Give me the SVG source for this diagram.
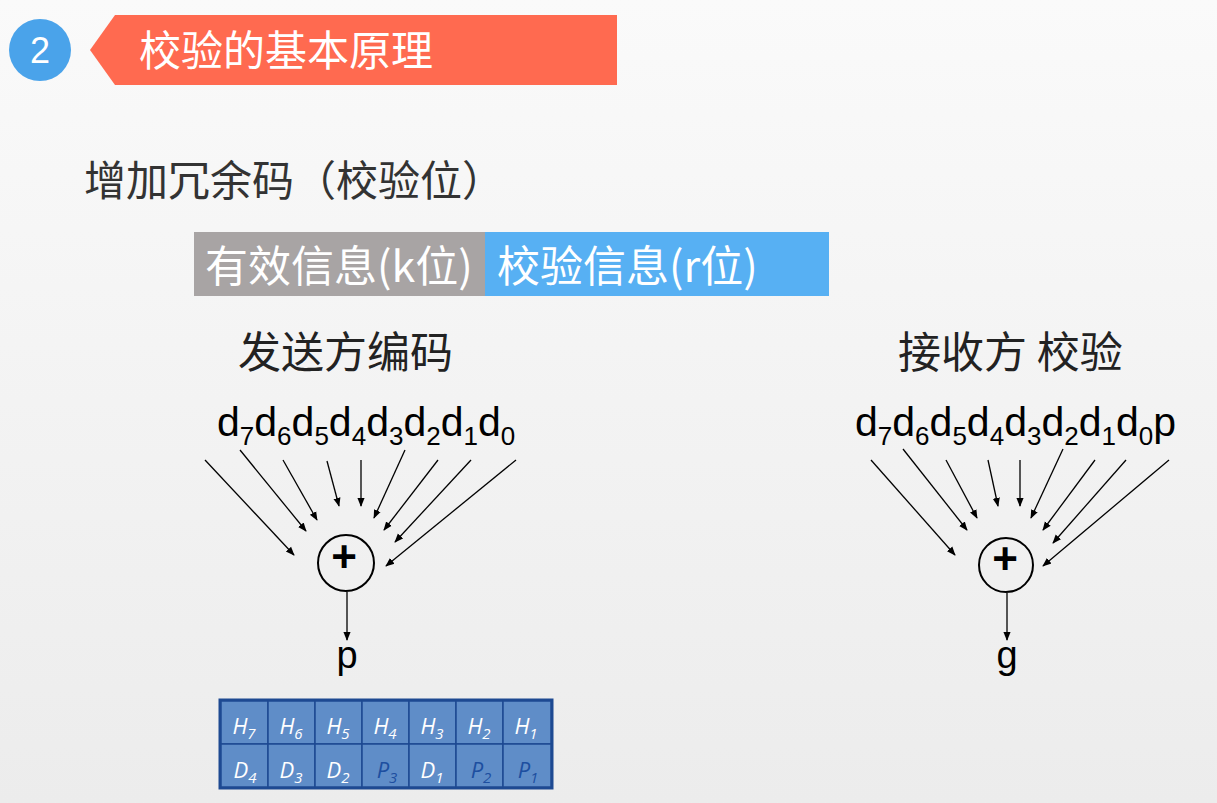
<svg xmlns="http://www.w3.org/2000/svg" width="1217" height="803" viewBox="0 0 1217 803">
<defs>
<linearGradient id="bg" x1="0" y1="0" x2="0" y2="1"><stop offset="0" stop-color="#fafafa"/><stop offset="1" stop-color="#ececec"/></linearGradient>
<marker id="ah" viewBox="0 0 10 10" refX="9" refY="5" markerWidth="9" markerHeight="9" markerUnits="userSpaceOnUse" orient="auto"><path d="M0,1 L10,5 L0,9 z" fill="#000"/></marker>
</defs>
<style>
.cn{font-family:"Noto Sans CJK SC","Noto Sans",sans-serif}
.ar{font-family:"Liberation Sans",Arial,sans-serif}
.c line{stroke:#000;stroke-width:1.3;marker-end:url(#ah)}
.cell{fill:#5f8dc8;stroke:#1e4a92;stroke-width:1.5}
.ct{font-family:"Open Sans","Liberation Sans",sans-serif;font-style:italic;font-size:22px;fill:#fff;text-anchor:middle}
.ct.p{fill:#1d4fa0}
.ct tspan{font-size:15px}
.d{font-size:41px}
.d tspan.s{font-size:26px}
</style>
<rect width="1217" height="803" fill="url(#bg)"/>
<g id="header">
<circle cx="40" cy="50" r="31" fill="#4aa3ea"/>
<text x="40" y="63" class="ar" font-size="36" fill="#fff" text-anchor="middle">2</text>
<polygon points="90,50 115,15 617,15 617,85 115,85" fill="#ff6a50"/>
<text x="139" y="66" class="cn" font-size="42" fill="#fff">校验的基本原理</text>
</g>
<text x="84" y="196" class="cn" font-size="42" fill="#333">增加冗余码（校验位）</text>
<g id="info">
<rect x="194" y="232" width="291" height="64" fill="#a8a4a4"/>
<rect x="485" y="232" width="344" height="64" fill="#57b0f3"/>
<text x="205" y="282" class="cn" font-size="43" fill="#fff">有效信息(k位)</text>
<text x="497" y="282" class="cn" font-size="43" fill="#fff">校验信息(r位)</text>
</g>
<text x="238" y="368" class="cn" font-size="43" fill="#222">发送方编码</text>
<text x="898" y="368" class="cn" font-size="43" fill="#222">接收方 校验</text>
<text x="217" y="436" class="ar d" fill="#000">d<tspan class="s" dy="9">7</tspan><tspan dy="-9">d</tspan><tspan class="s" dy="9">6</tspan><tspan dy="-9">d</tspan><tspan class="s" dy="9">5</tspan><tspan dy="-9">d</tspan><tspan class="s" dy="9">4</tspan><tspan dy="-9">d</tspan><tspan class="s" dy="9">3</tspan><tspan dy="-9">d</tspan><tspan class="s" dy="9">2</tspan><tspan dy="-9">d</tspan><tspan class="s" dy="9">1</tspan><tspan dy="-9">d</tspan><tspan class="s" dy="9">0</tspan></text>
<text x="855" y="436" class="ar d" fill="#000">d<tspan class="s" dy="9">7</tspan><tspan dy="-9">d</tspan><tspan class="s" dy="9">6</tspan><tspan dy="-9">d</tspan><tspan class="s" dy="9">5</tspan><tspan dy="-9">d</tspan><tspan class="s" dy="9">4</tspan><tspan dy="-9">d</tspan><tspan class="s" dy="9">3</tspan><tspan dy="-9">d</tspan><tspan class="s" dy="9">2</tspan><tspan dy="-9">d</tspan><tspan class="s" dy="9">1</tspan><tspan dy="-9">d</tspan><tspan class="s" dy="9">0</tspan><tspan dy="-9">p</tspan></text>
<g id="xor1">
<circle cx="346" cy="563" r="28" fill="none" stroke="#000" stroke-width="2"/>
<text x="344" y="572" class="ar" font-size="44" font-weight="bold" text-anchor="middle">+</text>
</g>
<g id="xor2">
<circle cx="1006" cy="565" r="27" fill="none" stroke="#000" stroke-width="2"/>
<text x="1005" y="574" class="ar" font-size="44" font-weight="bold" text-anchor="middle">+</text>
</g>
<text x="347" y="668" class="ar" font-size="38" text-anchor="middle">p</text>
<text x="1007" y="668" class="ar" font-size="38" text-anchor="middle">g</text>
<g id="connectors" class="c">
<line x1="205" y1="460" x2="294" y2="555"/>
<line x1="240" y1="450" x2="306" y2="531"/>
<line x1="283" y1="460" x2="317" y2="520"/>
<line x1="327" y1="461" x2="339" y2="506"/>
<line x1="361" y1="460" x2="361" y2="506"/>
<line x1="405" y1="450" x2="374" y2="518"/>
<line x1="438" y1="460" x2="384" y2="530"/>
<line x1="471" y1="460" x2="395" y2="542"/>
<line x1="516" y1="460" x2="386" y2="566"/>
<line x1="347" y1="592" x2="347" y2="640"/>
<line x1="871" y1="460" x2="955" y2="555"/>
<line x1="903" y1="449" x2="967" y2="530"/>
<line x1="946" y1="460" x2="977" y2="518"/>
<line x1="988" y1="460" x2="998" y2="506"/>
<line x1="1020" y1="460" x2="1020" y2="506"/>
<line x1="1063" y1="449" x2="1031" y2="518"/>
<line x1="1095" y1="460" x2="1043" y2="530"/>
<line x1="1126" y1="460" x2="1053" y2="543"/>
<line x1="1169" y1="460" x2="1043" y2="566"/>
<line x1="1007" y1="593" x2="1007" y2="640"/>
</g>
<g id="table">
<rect x="220" y="700" width="332" height="88" fill="none" stroke="#1e4a92" stroke-width="3"/>
<rect class="cell" x="221" y="701" width="47" height="43"/><rect class="cell" x="268" y="701" width="47" height="43"/><rect class="cell" x="315" y="701" width="47" height="43"/><rect class="cell" x="362" y="701" width="47" height="43"/><rect class="cell" x="409" y="701" width="47" height="43"/><rect class="cell" x="456" y="701" width="47" height="43"/><rect class="cell" x="503" y="701" width="48" height="43"/>
<rect class="cell" x="221" y="744" width="47" height="43"/><rect class="cell" x="268" y="744" width="47" height="43"/><rect class="cell" x="315" y="744" width="47" height="43"/><rect class="cell" x="362" y="744" width="47" height="43"/><rect class="cell" x="409" y="744" width="47" height="43"/><rect class="cell" x="456" y="744" width="47" height="43"/><rect class="cell" x="503" y="744" width="48" height="43"/>
<text class="ct" x="244" y="734">H<tspan dy="5">7</tspan></text>
<text class="ct" x="291" y="734">H<tspan dy="5">6</tspan></text>
<text class="ct" x="338" y="734">H<tspan dy="5">5</tspan></text>
<text class="ct" x="385" y="734">H<tspan dy="5">4</tspan></text>
<text class="ct" x="432" y="734">H<tspan dy="5">3</tspan></text>
<text class="ct" x="479" y="734">H<tspan dy="5">2</tspan></text>
<text class="ct" x="526" y="734">H<tspan dy="5">1</tspan></text>
<text class="ct" x="245" y="778">D<tspan dy="5">4</tspan></text>
<text class="ct" x="291" y="778">D<tspan dy="5">3</tspan></text>
<text class="ct" x="338" y="778">D<tspan dy="5">2</tspan></text>
<text class="ct p" x="387" y="778">P<tspan dy="5">3</tspan></text>
<text class="ct" x="432" y="778">D<tspan dy="5">1</tspan></text>
<text class="ct p" x="481" y="778">P<tspan dy="5">2</tspan></text>
<text class="ct p" x="528" y="778">P<tspan dy="5">1</tspan></text>
</g>
</svg>
